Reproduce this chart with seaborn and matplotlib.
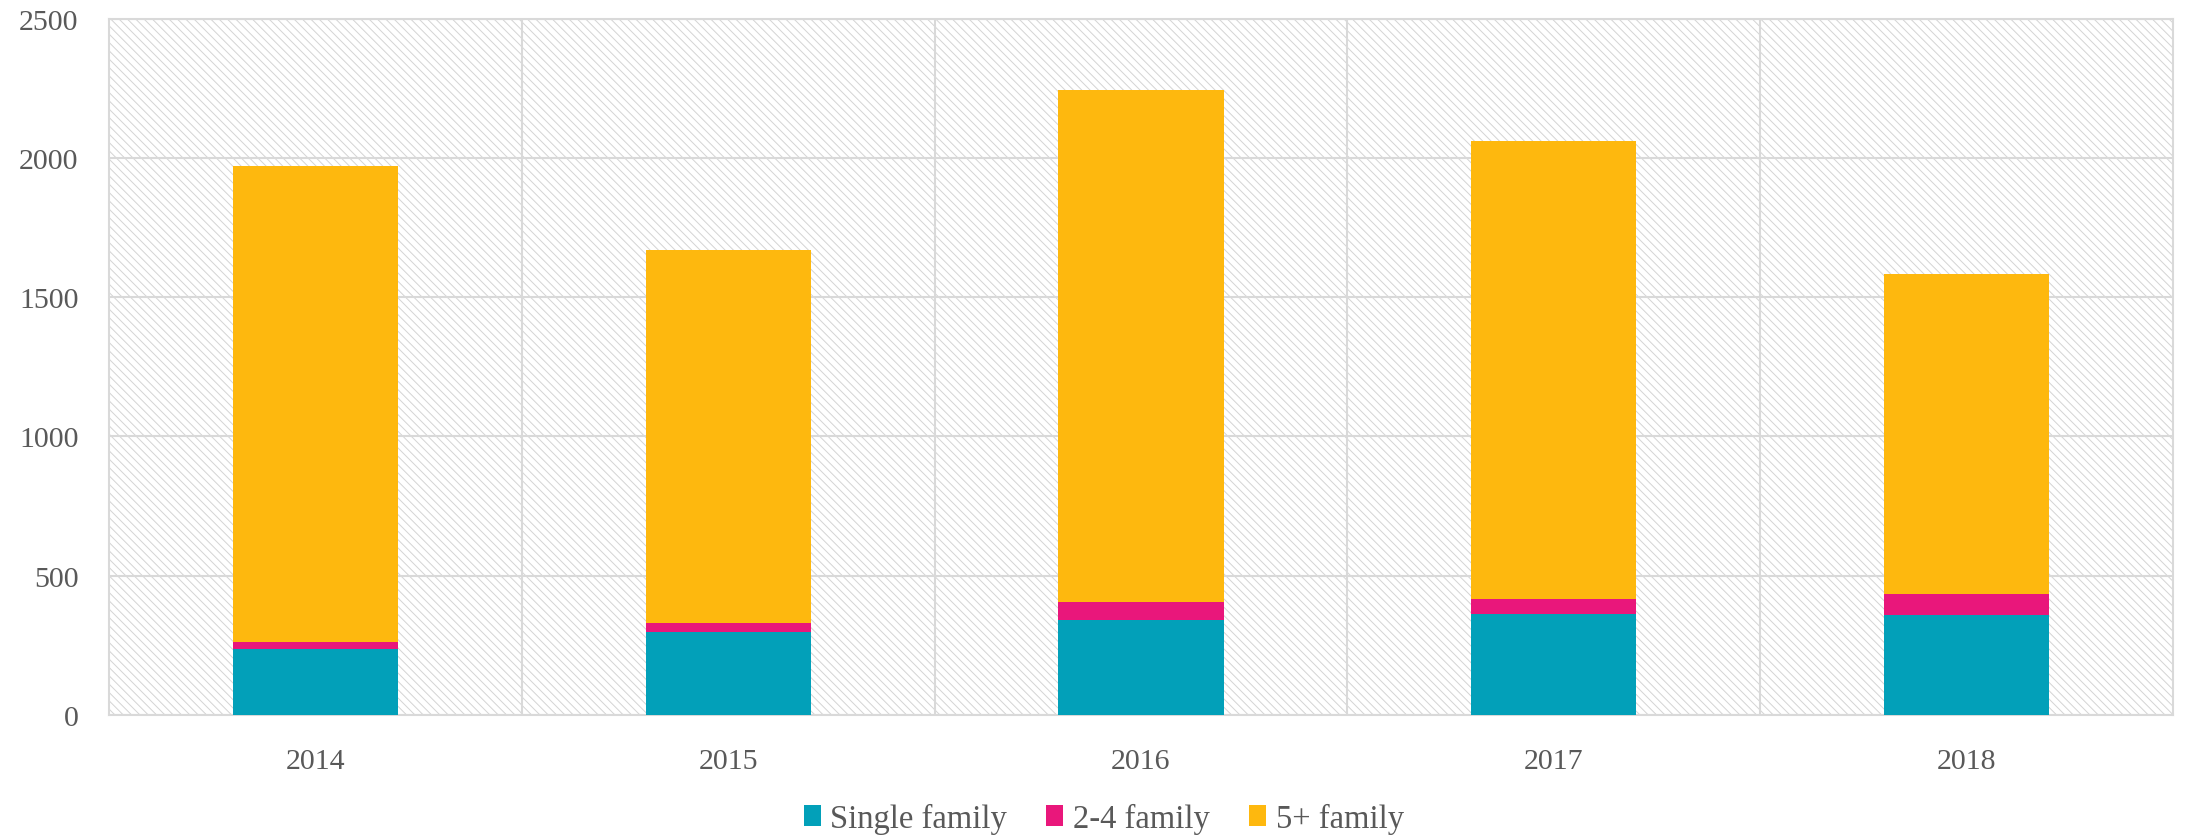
import pandas as pd
import seaborn as sns
import matplotlib.pyplot as plt
from matplotlib.patches import Rectangle, Patch

years = ["2014", "2015", "2016", "2017", "2018"]
single_family = [237, 299, 342, 361, 360]
two_to_four = [25, 30, 62, 56, 74]
five_plus = [1708, 1341, 1841, 1643, 1148]

series = ["Single family", "2-4 family", "5+ family"]
colors = {"Single family": "#02A0B9", "2-4 family": "#E9177B", "5+ family": "#FEB80E"}

sns.set_theme(style="white")
plt.rcParams["font.family"] = ["Liberation Serif", "DejaVu Serif"]
plt.rcParams["hatch.linewidth"] = 0.7

df = pd.DataFrame({"year": years, "Single family": single_family,
                   "2-4 family": two_to_four, "5+ family": five_plus})
long = df.melt(id_vars="year", var_name="type", value_name="count")
long["top"] = long.groupby("year")["count"].cumsum()

fig = plt.figure(figsize=(21.86, 8.37), dpi=100)
ax = fig.add_axes([0.0499, 0.1446, 0.9441, 0.8321])

# hatched plot background
ax.add_patch(Rectangle((0, 0), 1, 1, transform=ax.transAxes, facecolor="white",
                       edgecolor="#D4D4D4", hatch="\\\\\\\\", linewidth=0, zorder=0))

# stacked bars: draw cumulative tops, largest first
for t in reversed(series):
    sns.barplot(data=long[long["type"] == t], x="year", y="top", color=colors[t],
                width=0.4, saturation=1, linewidth=0, ax=ax, zorder=3)

grid_c = "#D9D9D9"
ax.set_axisbelow(True)
ax.yaxis.grid(True, color=grid_c, linewidth=1.5)
for x in [0.5, 1.5, 2.5, 3.5]:
    ax.axvline(x, color=grid_c, linewidth=1.5, zorder=1)

ax.set_xlim(-0.5, 4.5)
ax.set_ylim(0, 2500)
ax.set_yticks(range(0, 2501, 500))
ax.set_xlabel("")
ax.set_ylabel("")
for s in ax.spines.values():
    s.set_color(grid_c)
    s.set_linewidth(1.5)

ax.tick_params(axis="y", pad=22, labelsize=21.5, colors="#595959", length=0)
ax.tick_params(axis="x", pad=24, labelsize=21.5, colors="#595959", length=0)

handles = [Patch(facecolor=colors[t], edgecolor="none") for t in series]
fig.legend(handles, series, loc="center", bbox_to_anchor=(0.505, 0.021), ncol=3,
           frameon=False, fontsize=23.5, handlelength=0.52, handleheight=0.6,
           handletextpad=0.3, columnspacing=1.2, labelcolor="#595959")

fig.savefig("out.png", dpi=100)
